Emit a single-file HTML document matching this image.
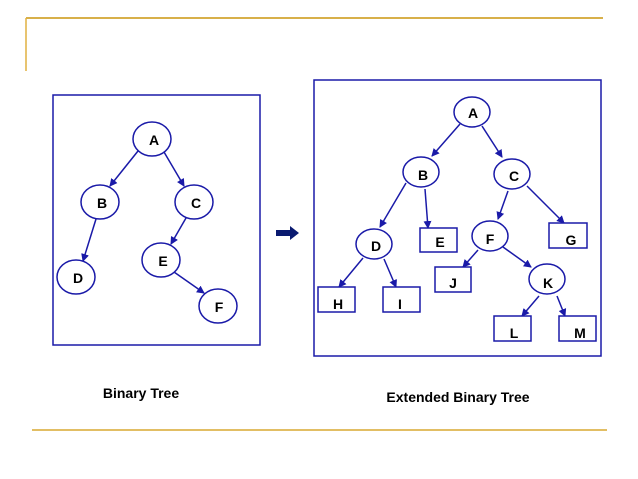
<!DOCTYPE html>
<html><head><style>body{margin:0;background:#fff}svg{display:block}</style></head><body>
<svg width="638" height="479" xmlns="http://www.w3.org/2000/svg" font-family="Liberation Sans, Arial, sans-serif" font-weight="bold">
<defs><marker id="ar" markerWidth="8" markerHeight="8" refX="7" refY="4" orient="auto" markerUnits="userSpaceOnUse"><path d="M0,0 L8,4 L0,8 z" fill="#1a1aa8"/></marker></defs>
<line x1="26" y1="18" x2="603" y2="18" stroke="#d8b04a" stroke-width="2"/>
<line x1="26" y1="18" x2="26" y2="71" stroke="#e0b040" stroke-width="1.5"/>
<line x1="32" y1="430" x2="607" y2="430" stroke="#d8a830" stroke-width="1.5"/>
<g fill="none" stroke="#1a1aa8" stroke-width="1.5">
<rect x="53" y="95" width="207" height="250"/>
<rect x="314" y="80" width="287" height="276"/>
</g>
<g stroke="#1a1aa8" stroke-width="1.5" marker-end="url(#ar)">
<line x1="138" y1="151" x2="110" y2="186"/>
<line x1="164" y1="152" x2="184" y2="186"/>
<line x1="96" y1="219" x2="83" y2="261"/>
<line x1="186" y1="218" x2="171" y2="244"/>
<line x1="174" y1="272" x2="204" y2="293"/>
<line x1="460" y1="124" x2="432" y2="156"/>
<line x1="482" y1="126" x2="502" y2="157"/>
<line x1="406" y1="183" x2="380" y2="227"/>
<line x1="425" y1="189" x2="428" y2="228"/>
<line x1="508" y1="191" x2="498" y2="219"/>
<line x1="527" y1="186" x2="564" y2="223"/>
<line x1="363" y1="258" x2="339" y2="287"/>
<line x1="384" y1="259" x2="396" y2="287"/>
<line x1="478" y1="250" x2="463" y2="267"/>
<line x1="503" y1="247" x2="531" y2="267"/>
<line x1="539" y1="296" x2="522" y2="316"/>
<line x1="557" y1="296" x2="565" y2="316"/>
</g>
<g fill="#fff" stroke="#1a1aa8" stroke-width="1.5">
<ellipse cx="152" cy="139" rx="19" ry="17"/>
<ellipse cx="100" cy="202" rx="19" ry="17"/>
<ellipse cx="194" cy="202" rx="19" ry="17"/>
<ellipse cx="76" cy="277" rx="19" ry="17"/>
<ellipse cx="161" cy="260" rx="19" ry="17"/>
<ellipse cx="218" cy="306" rx="19" ry="17"/>
<ellipse cx="472" cy="112" rx="18" ry="15"/>
<ellipse cx="421" cy="172" rx="18" ry="15"/>
<ellipse cx="512" cy="174" rx="18" ry="15"/>
<ellipse cx="374" cy="244" rx="18" ry="15"/>
<ellipse cx="490" cy="236" rx="18" ry="15"/>
<ellipse cx="547" cy="279" rx="18" ry="15"/>
<rect x="420" y="228" width="37" height="24"/>
<rect x="549" y="223" width="38" height="25"/>
<rect x="435" y="267" width="36" height="25"/>
<rect x="318" y="287" width="37" height="25"/>
<rect x="383" y="287" width="37" height="25"/>
<rect x="494" y="316" width="37" height="25"/>
<rect x="559" y="316" width="37" height="25"/>
</g>
<path d="M276,230 h14 v-4 l9,7 l-9,7 v-4 h-14 z" fill="#0a1a70"/>
<g font-size="14" fill="#000" text-anchor="middle">
<text x="154" y="145">A</text><text x="102" y="208">B</text><text x="196" y="208">C</text>
<text x="78" y="283">D</text><text x="163" y="266">E</text><text x="219" y="312">F</text>
<text x="473" y="118">A</text><text x="423" y="180">B</text><text x="514" y="181">C</text>
<text x="376" y="251">D</text><text x="440" y="247">E</text><text x="490" y="244">F</text>
<text x="571" y="245">G</text><text x="453" y="288">J</text><text x="548" y="288">K</text>
<text x="338" y="309">H</text><text x="400" y="309">I</text><text x="514" y="338">L</text><text x="580" y="338">M</text>
<text x="141" y="398">Binary Tree</text>
<text x="458" y="402">Extended Binary Tree</text>
</g>
</svg>
</body></html>
